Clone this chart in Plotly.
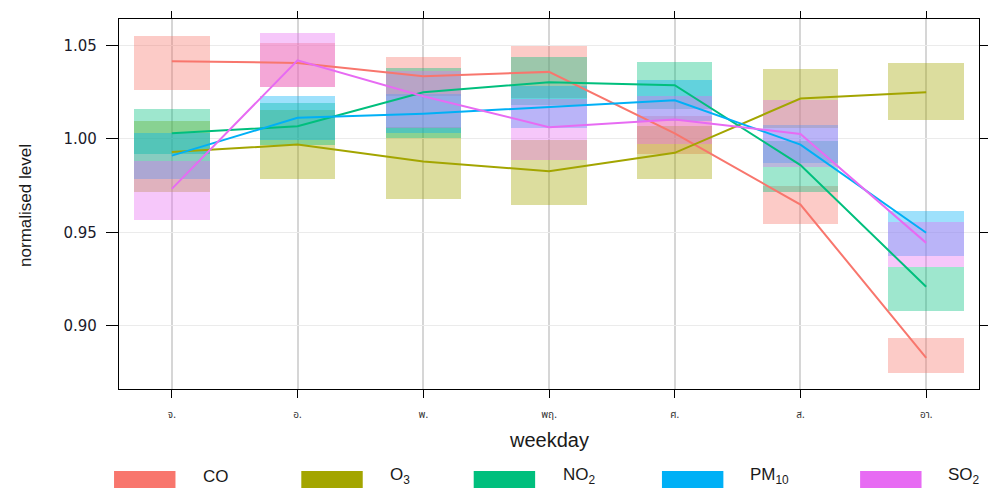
import plotly.graph_objects as go

# Day-of-week profile of normalised pollutant levels (mean and 95% CI)
days = [1, 2, 3, 4, 5, 6, 7]
day_labels = ["จ.", "อ.", "พ.", "พฤ.", "ศ.", "ส.", "อา."]

co_mean = [1.0416, 1.0407, 1.0336, 1.0359, 1.0030, 0.9649, 0.8829]
co_low = [1.0261, 1.0277, 1.0232, 1.0220, 0.9920, 0.9547, 0.8745]
co_high = [1.0553, 1.0511, 1.0440, 1.0500, 1.0122, 0.9747, 0.8935]

o3_mean = [0.9930, 0.9970, 0.9880, 0.9827, 0.9926, 1.0216, 1.0250]
o3_low = [0.9717, 0.9788, 0.9681, 0.9644, 0.9788, 1.0060, 1.0099]
o3_high = [1.0095, 1.0155, 1.0065, 0.9995, 1.0070, 1.0377, 1.0404]

no2_mean = [1.0030, 1.0068, 1.0250, 1.0304, 1.0288, 0.9860, 0.9209]
no2_low = [0.9922, 0.9970, 1.0006, 1.0180, 1.0162, 0.9717, 0.9082]
no2_high = [1.0163, 1.0195, 1.0380, 1.0440, 1.0414, 0.9988, 0.9314]

pm10_mean = [0.9911, 1.0113, 1.0135, 1.0172, 1.0207, 0.9970, 0.9498]
pm10_low = [0.9787, 0.9992, 1.0030, 1.0060, 1.0096, 0.9870, 0.9376]
pm10_high = [1.0033, 1.0232, 1.0243, 1.0282, 1.0318, 1.0077, 0.9617]

so2_mean = [0.9733, 1.0421, 1.0229, 1.0063, 1.0104, 1.0027, 0.9444]
so2_low = [0.9569, 1.0277, 1.0060, 0.9890, 0.9975, 0.9850, 0.9314]
so2_high = [0.9881, 1.0568, 1.0363, 1.0216, 1.0232, 1.0211, 0.9554]

pollutants = ["CO", "O<sub>3</sub>", "NO<sub>2</sub>", "PM<sub>10</sub>", "SO<sub>2</sub>"]
colors = ["#F8766D", "#A3A500", "#00BF7D", "#00B0F6", "#E76BF3"]
means = [co_mean, o3_mean, no2_mean, pm10_mean, so2_mean]
lows = [co_low, o3_low, no2_low, pm10_low, so2_low]
highs = [co_high, o3_high, no2_high, pm10_high, so2_high]

y_ticks = [0.90, 0.95, 1.00, 1.05]


def rgba(hex_color, a):
    h = hex_color.lstrip("#")
    r, g, b = int(h[0:2], 16), int(h[2:4], 16), int(h[4:6], 16)
    return f"rgba({r},{g},{b},{a})"


fig = go.Figure()

# confidence-interval boxes
for name, col, lo, hi in zip(pollutants, colors, lows, highs):
    fig.add_trace(go.Bar(
        x=days, base=lo, y=[h - l for h, l in zip(hi, lo)], width=0.6,
        marker=dict(color=rgba(col, 0.38), line=dict(width=0)),
        name=name, showlegend=False, hoverinfo="skip",
    ))

# mean lines
for name, col, m in zip(pollutants, colors, means):
    fig.add_trace(go.Scatter(
        x=days, y=m, mode="lines", line=dict(color=col, width=2),
        name=name, showlegend=False,
    ))

x_range = [0.58, 7.42]
y_range = [0.8662, 1.0642]
tick_font = dict(family="DejaVu Sans, Liberation Sans, Arial", size=15, color="#1a1a2a")

fig.update_layout(
    width=995, height=488,
    margin=dict(l=119, r=8, t=19, b=99),
    paper_bgcolor="white", plot_bgcolor="white",
    barmode="overlay", bargap=0,
    showlegend=False,
    xaxis=dict(
        range=x_range, tickvals=days, ticktext=day_labels,
        tickfont=dict(family="Noto Sans Thai, Loma, Garuda, Noto Sans, sans-serif", size=10, color="#333"),
        ticks="outside", ticklen=8, tickcolor="black", tickwidth=1,
        ticklabelstandoff=8,
        showgrid=True, gridcolor="#d6d6d6", gridwidth=1.5,
        showline=True, linecolor="black", linewidth=1.2, mirror=True,
        zeroline=False,
    ),
    xaxis2=dict(
        range=x_range, tickvals=days, overlaying="x", side="top",
        ticks="outside", ticklen=7, tickcolor="black", showticklabels=False,
        showgrid=False, zeroline=False, showline=False,
    ),
    yaxis=dict(
        range=y_range, tickvals=y_ticks, ticktext=[f"{v:.2f}" for v in y_ticks],
        tickfont=tick_font,
        ticks="outside", ticklen=12, tickcolor="black", tickwidth=1,
        ticklabelstandoff=6,
        showgrid=True, gridcolor="#ebebeb", gridwidth=1,
        showline=True, linecolor="black", linewidth=1.2, mirror=True,
        zeroline=False,
    ),
    yaxis2=dict(
        range=y_range, tickvals=y_ticks, overlaying="y", side="right",
        ticks="outside", ticklen=8, tickcolor="black", showticklabels=False,
        showgrid=False, zeroline=False, showline=False,
    ),
)

# invisible anchor so the top and right tick axes are drawn
fig.add_trace(go.Scatter(x=[days[0]], y=[y_ticks[0]], xaxis="x2", yaxis="y2",
                         mode="markers", marker=dict(opacity=0), showlegend=False,
                         hoverinfo="skip"))

# axis titles
fig.add_annotation(text="weekday", xref="paper", yref="paper",
                   x=0.5, y=-0.138, xanchor="center", yanchor="middle",
                   showarrow=False,
                   font=dict(family="Liberation Sans, Arial", size=20, color="#1a1a1a"))
fig.add_annotation(text="normalised level", xref="paper", yref="paper",
                   x=(24 - 119) / 868, y=(389 - 205) / 370, xanchor="center", yanchor="middle",
                   textangle=-90, showarrow=False,
                   font=dict(family="Liberation Sans, Arial", size=17, color="#1a1a1a"))

# key below the panel
key_rect_px = [114, 303, 477, 667, 867]
key_text_px = [202, 390, 565, 754, 954]
for name, col, rx, tx in zip(pollutants, colors, key_rect_px, key_text_px):
    fig.add_shape(type="rect", xref="paper", yref="paper",
                  x0=(rx - 119) / 868, x1=(rx + 62 - 119) / 868,
                  y0=(389 - 471) / 370, y1=(389 - 497) / 370,
                  fillcolor=col, line=dict(width=0), layer="above")
    fig.add_annotation(text=name, xref="paper", yref="paper",
                       x=(tx - 119) / 868, y=(389 - 476) / 370,
                       xanchor="left", yanchor="middle", showarrow=False,
                       font=dict(family="Liberation Sans, Arial", size=17, color="#1a1a1a"))

fig.write_html("out.html")
